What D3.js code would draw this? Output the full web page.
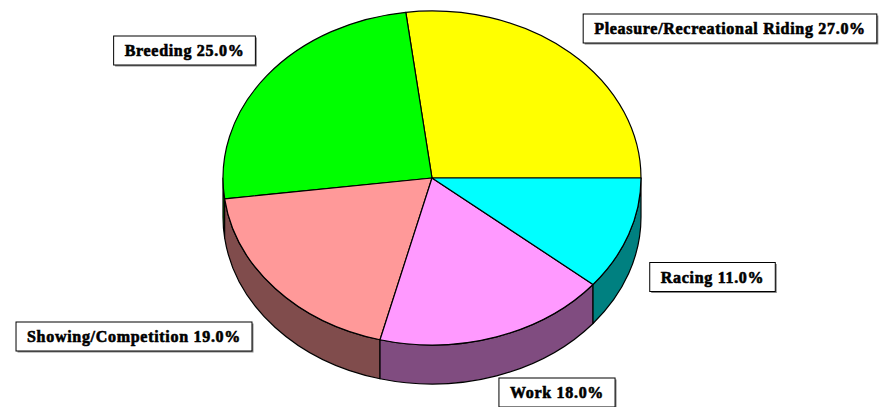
<!DOCTYPE html>
<html>
<head>
<meta charset="utf-8">
<script src="https://cdn.jsdelivr.net/npm/d3@7"></script>
<style>
  body { margin: 0; background: #fff; }
  svg { display: block; }
</style>
</head>
<body>
<div id="chart"></div>
<script>
// chart data
var categories = ["Pleasure/Recreational Riding", "Breeding", "Showing/Competition", "Work", "Racing"];
var values = [27.0, 25.0, 19.0, 18.0, 11.0];
var topColors = ["#ffff00", "#00ff00", "#ff9999", "#ff99ff", "#00ffff"];
var sideColors = ["#808000", "#008000", "#804c4c", "#804c80", "#008080"];

const width = 885, height = 407;
const cx = 432, cy = 178, rx = 209, ry = 167, depth = 39;

// label box layout (center of each box), one per category
var labelBoxes = [[730, 28.5], [184.5, 50.5], [134, 336.5], [557, 392.5], [712.5, 277]];

const svg = d3.select("#chart")
  .append("svg")
  .attr("width", width)
  .attr("height", height);

// angles: math angle, counterclockwise from 3 o'clock
var pie = d3.pie().sort(null).startAngle(0).endAngle(2 * Math.PI);
var slices = pie(values).map(function (d, i) {
  return { a0: d.startAngle, a1: d.endAngle, i: i, value: d.data };
});

function pt(t, dy) {
  return [cx + rx * Math.cos(t), cy - ry * Math.sin(t) + (dy || 0)];
}

function topPath(a0, a1) {
  var p0 = pt(a0), p1 = pt(a1);
  var large = (a1 - a0) > Math.PI ? 1 : 0;
  return `M${cx},${cy}L${p0[0]},${p0[1]}A${rx},${ry} 0 ${large} 0 ${p1[0]},${p1[1]}Z`;
}

function sidePath(a0, a1) {
  var p0 = pt(a0), p1 = pt(a1), q1 = pt(a1, depth), q0 = pt(a0, depth);
  return `M${p0[0]},${p0[1]}A${rx},${ry} 0 0 0 ${p1[0]},${p1[1]}` +
    `L${q1[0]},${q1[1]}A${rx},${ry} 0 0 1 ${q0[0]},${q0[1]}Z`;
}

// sides (only the front half, angles between PI and 2PI)
var sides = svg.append("g");
slices.forEach(function (s) {
  var a = Math.max(s.a0, Math.PI), b = Math.min(s.a1, 2 * Math.PI);
  if (b <= a) return;
  sides.append("path")
    .attr("d", sidePath(a, b))
    .attr("fill", sideColors[s.i])
    .attr("stroke", "#000")
    .attr("stroke-width", 1.2)
    .attr("stroke-linejoin", "round");
});

// top face
svg.append("g")
  .selectAll("path")
  .data(slices)
  .enter()
  .append("path")
    .attr("d", function (d) { return topPath(d.a0, d.a1); })
    .attr("fill", function (d) { return topColors[d.i]; })
    .attr("stroke", "#000")
    .attr("stroke-width", 1.2)
    .attr("stroke-linejoin", "round");

// labels
var labels = svg.append("g");
slices.forEach(function (s) {
  var txt = categories[s.i] + " " + s.value.toFixed(1) + "%";
  var g = labels.append("g")
    .attr("transform", `translate(${labelBoxes[s.i][0]},${labelBoxes[s.i][1]})`);
  var t = g.append("text")
    .attr("text-anchor", "middle")
    .attr("dy", "0.35em")
    .style("font-family", "'Liberation Serif', 'Times New Roman', serif")
    .style("font-weight", "bold")
    .style("font-size", "16px")
    .style("letter-spacing", "0.7px")
    .style("fill", "#000")
    .style("stroke", "#000")
    .style("stroke-width", "0.6px")
    .text(txt);
  var bb = t.node().getBBox();
  var w = bb.width + 22, h = 29;
  g.insert("rect", "text")
    .attr("x", -w / 2 + 1.5).attr("y", -h / 2 + 1.5)
    .attr("width", w).attr("height", h)
    .attr("fill", "#888");
  g.insert("rect", "text")
    .attr("x", -w / 2).attr("y", -h / 2)
    .attr("width", w).attr("height", h)
    .attr("fill", "#fff")
    .attr("stroke", "#000")
    .attr("stroke-width", 1);
});
</script>
</body>
</html>
